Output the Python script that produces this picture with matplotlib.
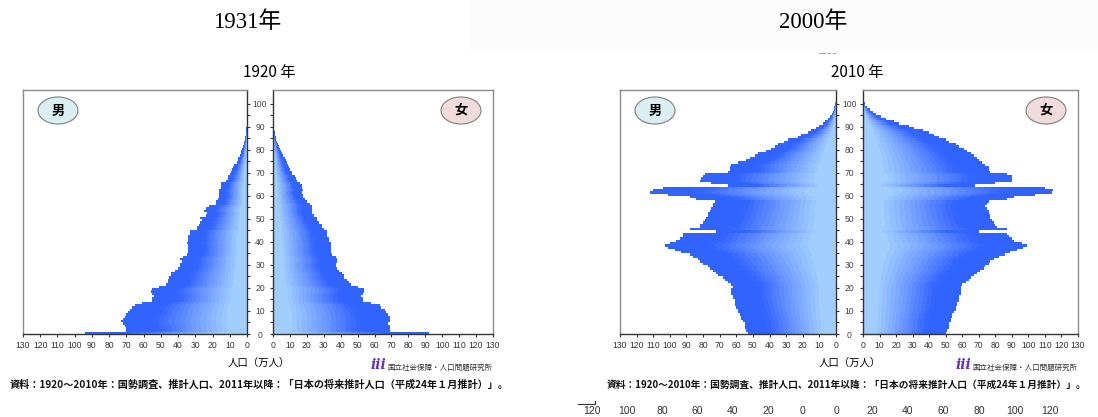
import numpy as np
import matplotlib
matplotlib.use('Agg')
import matplotlib.pyplot as plt
from matplotlib.patches import Ellipse, Rectangle
from matplotlib.lines import Line2D
from matplotlib.colors import LinearSegmentedColormap

plt.rcParams['font.family'] = ['Liberation Sans', 'DejaVu Sans']

# ---- data (万人, by single year of age 0..100) ----
ages = np.arange(0, 101)

male_1920 = [94, 70, 70, 71, 72, 73, 72, 71, 70, 69,
             68, 67, 65, 61, 55, 55, 54, 55, 56, 55,
             51, 47, 46, 46, 45, 44, 44, 42, 40, 39,
             39, 38, 39, 37, 35, 34, 34, 34, 34, 35,
             34, 34, 34, 33, 33, 29, 29, 28, 27, 26,
             27, 24, 23, 25, 24, 22, 18, 18, 17, 16,
             16, 16, 16, 15, 15, 15, 12, 11, 11, 10,
             9.5, 8.5, 8, 7.5, 6, 5.5, 5, 4, 3.6, 3.2,
             2.8, 2.4, 2.0, 1.6, 1.3, 1.0, 0.7, 0.5, 0.4, 0.3,
             0.2, 0.1, 0.1, 0.1, 0, 0, 0, 0, 0, 0, 0]
female_1920 = [92, 69, 69, 69, 68, 69, 69, 69, 68, 67,
               66, 64, 63, 58, 53, 53, 52, 53, 54, 54,
               50, 46, 45, 44, 42, 42, 41, 39, 38, 37,
               37, 38, 38, 37, 35, 34, 34, 34, 34, 34,
               33, 33, 32, 32, 32, 30, 29, 29, 27, 26,
               26, 24, 23, 23, 23, 23, 22, 20, 19, 18,
               17.5, 17, 17.5, 17, 17, 16, 14, 13.5, 13, 11.5,
               11, 10, 9.5, 9, 8, 7.5, 7, 6, 5.5, 5,
               4, 3.6, 3.2, 2.4, 2, 1.6, 1.2, 1, 0.8, 0.6,
               0.5, 0.4, 0.3, 0.2, 0.2, 0.1, 0.1, 0.1, 0.1, 0.1, 0.1]
male_2010 = [53, 54, 55, 55, 55, 56, 57, 57, 58, 59,
             59, 60, 61, 61, 61, 62, 62, 63, 63, 63,
             62, 63, 65, 67, 68, 71, 72, 74, 76, 77,
             80, 82, 83, 86, 88, 93, 97, 101, 103, 100,
             96, 94, 92, 92, 72, 88, 82, 82, 80, 79,
             78, 77, 77, 76, 75, 74, 74, 73, 84, 88,
             101, 112, 110, 104, 65, 75, 82, 81, 80, 79,
             65, 64, 64, 63, 59, 54, 52, 49, 47, 42,
             39, 37, 35, 31, 29, 23, 21, 17, 15, 12,
             10, 8, 6.5, 5, 3.8, 2.7, 2, 1.4, 1, 0.6, 0.5]
female_2010 = [50, 51, 52, 52, 52, 53, 53, 54, 54, 55,
               56, 56, 57, 57, 58, 58, 58, 59, 59, 59,
               59, 60, 62, 64, 65, 67, 69, 71, 73, 74,
               76, 77, 79, 82, 86, 89, 93, 97, 99, 96,
               91, 90, 88, 87, 70, 87, 81, 80, 79, 78,
               77, 77, 76, 76, 75, 74, 75, 76, 87, 91,
               104, 114, 115, 110, 68, 80, 90, 90, 90, 87,
               77, 76, 76, 74, 72, 70, 69, 67, 65, 63,
               61, 58, 56, 52, 50, 46, 43, 40, 36, 31,
               28, 22, 19, 14, 11, 8, 6, 4, 2.5, 1.5, 1.0]

x_ticks = np.arange(0, 131, 10)
age_ticks = np.arange(0, 101, 10)
under_ticks = np.arange(0, 121, 20)

source_note = '資料：1920～2010年：国勢調査、推計人口、2011年以降：「日本の将来推計人口（平成24年１月推計）」。'
institute = '国立社会保障・人口問題研究所'

W, H = 1098, 417
fig = plt.figure(figsize=(W / 100, H / 100), dpi=100)
cjk = ['Noto Sans CJK JP', 'DejaVu Sans']


def fx(px):
    return px / W


def fy(py):
    return 1 - py / H


def px_axes(x0, y0, x1, y1):
    return fig.add_axes([x0 / W, 1 - y1 / H, (x1 - x0) / W, (y1 - y0) / H])


# per-bar gradient: light near the centre, strong blue at the outer end
cmap = LinearSegmentedColormap.from_list('bar', ['#a2ceff', '#6e9aff', '#3163ff'])
N = 24
fracs = np.arange(N, 0, -1) / N


def shade(f):
    t = np.clip((f - 0.5 / N - 0.14) / 0.6, 0, 1)
    return cmap(t)


def draw_side(ax, values):
    v = np.asarray(values, dtype=float)
    for f in fracs:
        ax.barh(ages, v * f, height=1.0, align='edge', color=shade(f),
                linewidth=0, antialiased=False)


def pyramid(box, male, female, big_title, big_x, title, title_x, src_x, src_size):
    mx0, mx1, fx0, fx1 = box
    axm = px_axes(mx0, 90, mx1, 334)
    axf = px_axes(fx0, 90, fx1, 334)
    draw_side(axm, male)
    draw_side(axf, female)
    for ax in (axm, axf):
        ax.set_ylim(0, 106)
        ax.set_xticks(x_ticks)
        ax.tick_params(axis='x', length=2.2, width=0.8, color='#333',
                       pad=3, labelsize=6.2, labelcolor='#333')
        ax.set_yticks(age_ticks)
        ax.set_yticks(np.arange(5, 101, 10), minor=True)
        for s in ax.spines.values():
            s.set_color('#8a8a8a')
            s.set_linewidth(1.0)
        ax.spines['bottom'].set_color('#333')
    axm.set_xlim(130, 0)
    axf.set_xlim(0, 130)
    axm.yaxis.tick_right()
    axm.spines['right'].set_color('#333')
    axf.spines['left'].set_color('#333')
    axm.tick_params(axis='y', which='both', direction='out', length=2.2, width=0.8,
                    color='#333', labelsize=6.2, labelcolor='#444',
                    pad=(fx0 - mx1) / 2 * 0.72 - 2.2)
    plt.setp(axm.get_yticklabels(), ha='center')
    axf.tick_params(axis='y', which='both', direction='out', length=2.2, width=0.8,
                    color='#333', labelleft=False)

    # 男 / 女 ovals
    for cx, ch, col in ((mx0 + 35, '男', '#dbeef4'), (fx1 - 32, '女', '#f2dcdb')):
        fig.add_artist(Ellipse((fx(cx), fy(110.5)), width=40 / W, height=27 / H,
                               transform=fig.transFigure, facecolor=col,
                               edgecolor='#7f7f7f', linewidth=0.8))
        fig.text(fx(cx), fy(110.5), ch, fontsize=9.5, fontweight='bold', family=cjk,
                 ha='center', va='center')

    fig.text(fx(big_x), fy(22), big_title, fontsize=16.5,
             family=['Liberation Serif', 'Noto Sans CJK JP'], ha='center', va='center')
    fig.text(fx(title_x), fy(72), title, fontsize=11, family=cjk, ha='center', va='center')
    mid = (mx0 + fx1) / 2
    fig.text(fx(mid + 0.5), fy(364), '人口（万人）', fontsize=7.5, family=cjk,
             ha='center', va='center')
    fig.text(fx(fx1 - 115), fy(365), 'iii', fontsize=10, fontweight='bold', style='italic',
             family=['DejaVu Serif'], color='#6a35b0', ha='center', va='center')
    fig.text(fx(fx1 - 106), fy(368), institute, fontsize=5.4, family=cjk, color='#333',
             ha='left', va='center')
    fig.text(fx(src_x), fy(385), source_note, fontsize=src_size, family=cjk,
             fontweight='bold', color='#111', ha='left', va='center')


pyramid((23, 247, 273, 493), male_1920, female_1920, '1931年', 247,
        '1920 年', 269, 10, 7.3)
pyramid((620, 836, 863, 1078), male_2010, female_2010, '2000年', 813,
        '2010 年', 857, 607, 7.0)

# faint remains of the pasted image behind the right panel
fig.text(fx(828), fy(52), '2000', fontsize=6, color='#666', ha='center', va='center', zorder=1)
fig.add_artist(Rectangle((fx(470), fy(52.5)), 1 - fx(470), 52.5 / H,
                         transform=fig.transFigure, facecolor='#fbfcfb',
                         edgecolor='none', zorder=2))
fig.add_artist(Line2D([fx(578), fx(595), fx(595)], [fy(404), fy(404), fy(401)],
                      transform=fig.transFigure, color='#333', linewidth=0.8))

# stray axis labels of the chart underneath
for x0, x1, inv in ((592, 803, True), (837, 1050, False)):
    axu = px_axes(x0, 400, x1, 403)
    axu.set_xlim((120, 0) if inv else (0, 120))
    axu.set_xticks(under_ticks)
    axu.set_yticks([])
    axu.patch.set_alpha(0)
    for s in axu.spines.values():
        s.set_visible(False)
    axu.tick_params(axis='x', length=0, pad=2.5, labelsize=7.5, labelcolor='#333')

fig.savefig('out.png', dpi=100)
